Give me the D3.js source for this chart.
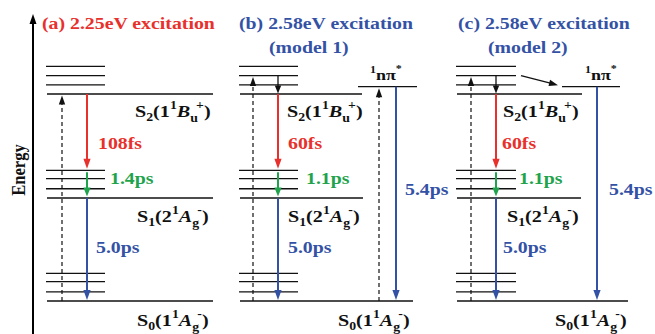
<!DOCTYPE html>
<html>
<head>
<meta charset="utf-8">
<script src="https://cdn.jsdelivr.net/npm/d3@7"></script>
<style>
  html, body { margin: 0; padding: 0; background: #fff; }
  svg { display: block; }
</style>
</head>
<body>
<svg id="chart" width="655" height="334" font-family="'Liberation Serif', 'DejaVu Serif', serif" font-weight="bold"></svg>
<script>
// ---- data ----------------------------------------------------------------
const panelTitles = ["(a) 2.25eV excitation", "(b) 2.58eV excitation", "(c) 2.58eV excitation"];
const panelSubtitles = ["", "(model 1)", "(model 2)"];

// electronic state energies (eV above S0)
const stateEnergies = { S0: 0, S1: 1.12, S2: 2.25, npi: 2.33 };
// vibrational sub-levels of each state
const vibS0 = [0.10, 0.21, 0.30];
const vibS1 = [1.22, 1.33, 1.42];
const vibS2 = [2.35, 2.45, 2.55];

// level the pump pulse reaches in each panel
const pumpTargets = [2.25, 2.45, 2.45];

// time constants
const s2Lifetimes = ["108fs", "60fs", "60fs"];
const ivrLifetimes = ["1.4ps", "1.1ps", "1.1ps"];
const s1Lifetimes = ["5.0ps", "5.0ps", "5.0ps"];
const npiLifetimes = [null, "5.4ps", "5.4ps"];

// ---- style ---------------------------------------------------------------
const RED = "#e8302c", GREEN = "#1fa34c", BLUE = "#3452a5";
const titleColors = [RED, BLUE, BLUE];
const WIDE = 1.2;   // horizontal stretch of the lettering

// ---- layout (horizontal placement of each panel) -------------------------
const layout = [
  { x0: 47, vibW: 58, s2W: 166, s1W: 166, s0W: 166, pumpX: 62, decayX: 87,
    titleX: 42, subX: 0,
    s2Lab: 135, s1Lab: 137, s0Lab: 137, s2t: 98, ivrT: 110, s1t: 96 },
  { x0: 240, vibW: 58, s2W: 122, s1W: 123, s0W: 173, pumpX: 253, decayX: 278,
    npiX0: 358, npiW: 59, npiPumpX: 379, npiDecayX: 396, npiLab: 370, npiT: 405,
    titleX: 239, subX: 269,
    s2Lab: 287, s1Lab: 288, s0Lab: 338, s2t: 288, ivrT: 306, s1t: 288 },
  { x0: 457, vibW: 59, s2W: 125, s1W: 124, s0W: 171, pumpX: 471, decayX: 496,
    npiX0: 562, npiW: 58, npiDecayX: 597, npiLab: 585, npiT: 609,
    titleX: 458, subX: 488,
    s2Lab: 503, s1Lab: 507, s0Lab: 555, s2t: 502, ivrT: 519, s1t: 503 }
];

const svg = d3.select("#chart");
const y = d3.scaleLinear().domain([0, 2.5]).range([301, 71]);

// ---- helpers -------------------------------------------------------------
function arrow(g, x1, y1, x2, y2, color, opts = {}) {
  const w = opts.width || 2, hl = opts.headLen || 10, hw = opts.headW || 3.6;
  const dx = x2 - x1, dy = y2 - y1, len = Math.hypot(dx, dy);
  const ux = dx / len, uy = dy / len;
  const bx = x2 - ux * hl, by = y2 - uy * hl;
  const line = g.append("line")
    .attr("x1", x1).attr("y1", y1).attr("x2", bx + ux * 1).attr("y2", by + uy * 1)
    .attr("stroke", color).attr("stroke-width", w);
  if (opts.dash) line.attr("stroke-dasharray", opts.dash);
  g.append("path")
    .attr("d", `M${x2},${y2}L${bx - uy * hw},${by + ux * hw}L${bx + uy * hw},${by - ux * hw}Z`)
    .attr("fill", color);
}

function level(g, x, w, e, width = 1.4) {
  g.append("line")
    .attr("x1", x).attr("x2", x + w)
    .attr("y1", y(e)).attr("y2", y(e))
    .attr("stroke", "#111").attr("stroke-width", width);
}

// wide bold lettering anchored at (x, yBase)
function label(g, x, yBase, size, color) {
  return g.append("text")
    .attr("transform", `translate(${x},${yBase}) scale(${WIDE},1)`)
    .attr("font-size", size).attr("fill", color);
}

// state label such as S2(1¹Bu⁺)
function stateLabel(g, x, yBase, idx, num, letter, sub, sup) {
  const t = label(g, x, yBase, 16.8, "#111");
  t.append("tspan").text("S");
  t.append("tspan").attr("font-size", 11.5).attr("dy", 4).text(idx);
  t.append("tspan").attr("dy", -4).text("(" + num);
  t.append("tspan").attr("font-size", 11.5).attr("dy", -8).text("1");
  t.append("tspan").attr("dy", 8).attr("font-style", "italic").text(letter);
  t.append("tspan").attr("font-size", 11.5).attr("dy", 5).text(sub);
  t.append("tspan").attr("font-size", 11.5).attr("dx", -1.5).attr("dy", -13).text(sup);
  t.append("tspan").attr("dy", 8).text(")");
}

function npiLabel(g, x, yBase) {
  const t = label(g, x, yBase, 15, "#111");
  t.append("tspan").attr("font-size", 10).attr("dy", -7).text("1");
  t.append("tspan").attr("dy", 7).text("nπ");
  t.append("tspan").attr("font-size", 10).attr("dy", -8).text("*");
}

// ---- energy axis ---------------------------------------------------------
const axisG = svg.append("g");
arrow(axisG, 33, 334, 33, 14, "#000", { width: 2, headLen: 10, headW: 3.5 });
axisG.append("text")
  .attr("transform", `translate(25,170) scale(${WIDE},1) rotate(-90)`)
  .attr("text-anchor", "middle")
  .attr("font-size", 16.5).attr("fill", "#111")
  .text("Energy");

// ---- panels --------------------------------------------------------------
panelTitles.forEach((title, i) => {
  const L = layout[i];
  const g = svg.append("g");

  label(g, L.titleX, 29, 16.5, titleColors[i]).text(title);
  if (panelSubtitles[i]) {
    label(g, L.subX, 53, 16.5, titleColors[i]).text(panelSubtitles[i]);
  }

  // vibrational ladders
  [vibS0, vibS1, vibS2].forEach(set =>
    set.forEach(e => level(g, L.x0 - 1, L.vibW + 1, e, 1.3)));

  // electronic origins
  level(g, L.x0, L.s2W, stateEnergies.S2);
  level(g, L.x0, L.s1W, stateEnergies.S1);
  level(g, L.x0, L.s0W, stateEnergies.S0);
  if (L.npiX0 !== undefined) {
    level(g, L.npiX0, L.npiW, stateEnergies.npi);
    npiLabel(g, L.npiLab, 80);
  }

  // pump (dashed)
  arrow(g, L.pumpX, y(0), L.pumpX, y(pumpTargets[i]) + 1.5, "#111",
    { width: 1.2, dash: "4,3", headLen: 9, headW: 3.2 });

  // hot S2 relaxation to the S2 origin
  if (pumpTargets[i] > stateEnergies.S2) {
    arrow(g, L.decayX, y(pumpTargets[i]), L.decayX, y(stateEnergies.S2) - 0.5, "#111",
      { width: 1.3, headLen: 8, headW: 3.2 });
  }

  const topS1 = d3.max(vibS1);
  arrow(g, L.decayX, y(stateEnergies.S2), L.decayX, y(topS1) - 1.5, RED, { width: 2 });
  arrow(g, L.decayX, y(topS1) + 2, L.decayX, y(stateEnergies.S1) - 1.5, GREEN, { width: 2, headLen: 9 });
  arrow(g, L.decayX, y(stateEnergies.S1), L.decayX, y(stateEnergies.S0) - 1, BLUE, { width: 2 });

  // nπ* channel
  if (L.npiPumpX !== undefined) {
    arrow(g, L.npiPumpX, y(0), L.npiPumpX, y(stateEnergies.npi) + 1.5, "#111",
      { width: 1.2, dash: "4,3", headLen: 9, headW: 3.2 });
  }
  if (i === 2) {
    // internal conversion from hot S2 into nπ*
    arrow(g, L.x0 + L.vibW + 5, y(vibS2[1]), L.npiX0 - 4, y(stateEnergies.npi) - 1.5, "#111",
      { width: 1.3, headLen: 9, headW: 3.2 });
  }
  if (npiLifetimes[i]) {
    arrow(g, L.npiDecayX, y(stateEnergies.npi), L.npiDecayX, y(0) - 1, BLUE, { width: 2 });
    label(g, L.npiT, 195, 16.5, BLUE).text(npiLifetimes[i]);
  }

  // time constants
  label(g, L.s2t, 149, 16.5, RED).text(s2Lifetimes[i]);
  label(g, L.ivrT, 184, 16.5, GREEN).text(ivrLifetimes[i]);
  label(g, L.s1t, 253, 16.5, BLUE).text(s1Lifetimes[i]);

  // state names
  stateLabel(g, L.s2Lab, y(stateEnergies.S2) + 23, "2", "1", "B", "u", "+");
  stateLabel(g, L.s1Lab, y(stateEnergies.S1) + 24, "1", "2", "A", "g", "-");
  stateLabel(g, L.s0Lab, y(stateEnergies.S0) + 25, "0", "1", "A", "g", "-");
});
</script>
</body>
</html>
